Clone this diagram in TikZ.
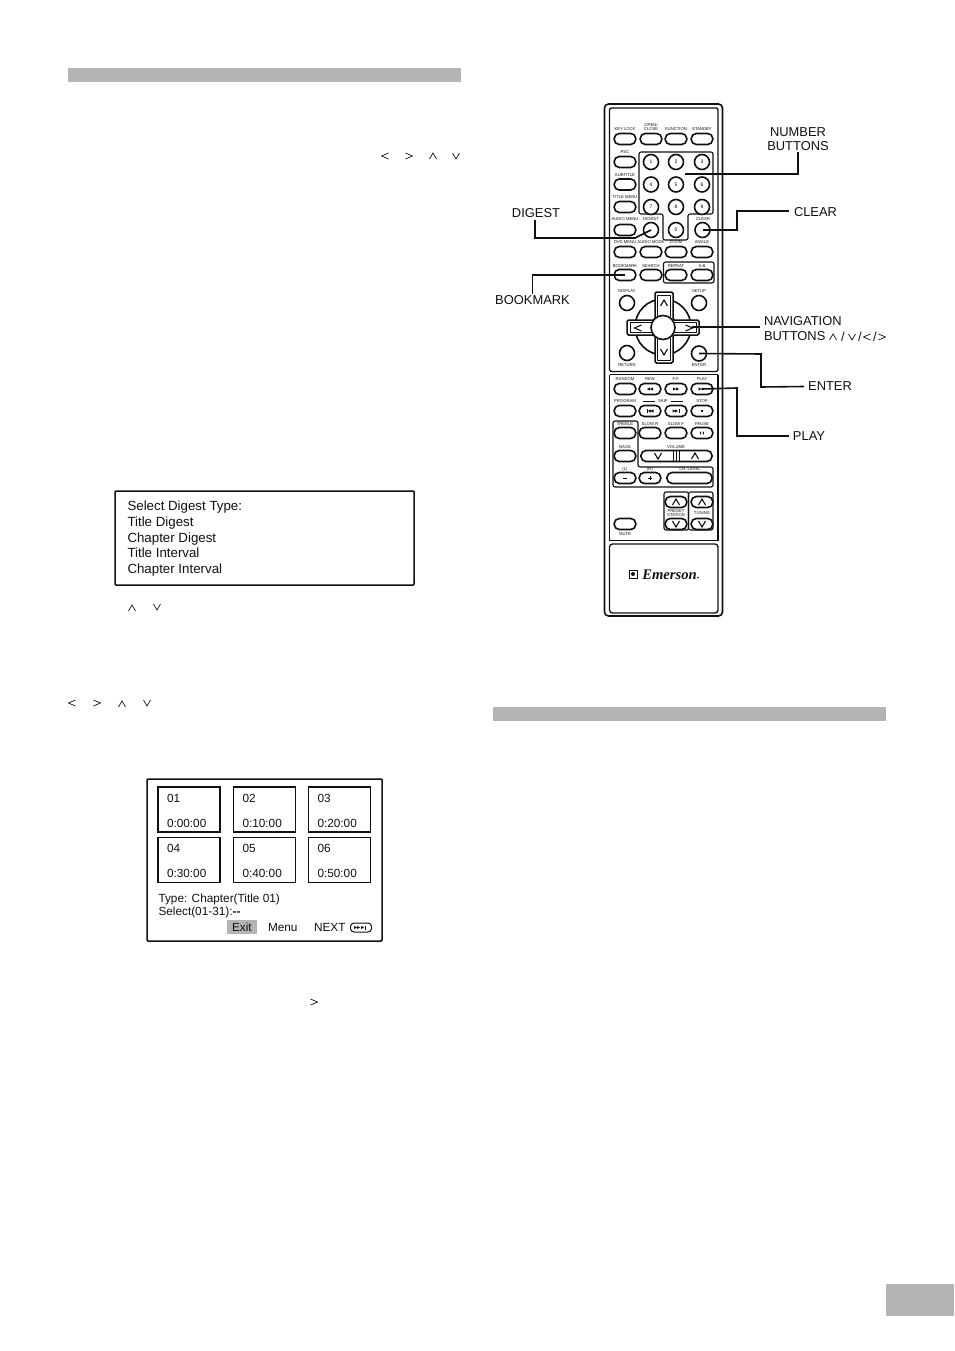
\documentclass[tikz,border=0pt]{standalone}
\usepackage{fontspec}
\setmainfont{Liberation Sans}
\newfontfamily\logofont{Liberation Serif}
\newcount\lblno
\tikzset{
  x=1pt,y=-1pt,
  bar/.style={fill=barcol,draw=none},
  rb/.style={draw=ink,line width=1.6pt,rounded corners=5pt,inner sep=0pt,outer sep=0pt,minimum height=11pt,minimum width=21.5pt,fill=white},
  cb/.style={draw=ink,circle,line width=1.6pt,inner sep=0pt,outer sep=0pt,minimum size=15pt,font=\fontsize{5}{5}\selectfont,fill=white},
  tiny/.style={inner sep=0pt,outer sep=0pt,text=ink,font=\fontsize{4.2}{4.8}\selectfont,align=center},
  body/.style={inner sep=0pt,outer sep=0pt,text=ink,anchor=base west,font=\fontsize{13.3}{15}\selectfont},
  call/.style={inner sep=0pt,outer sep=0pt,text=ink,font=\fontsize{12.9}{14.5}\selectfont,align=center},
  scr/.style={inner sep=0pt,outer sep=0pt,text=ink,anchor=base west,font=\fontsize{11.8}{13}\selectfont},
  conn/.style={draw=ink,line width=1.6pt,line join=miter},
  frame/.style={draw=ink,line width=1.5pt,rounded corners=1pt},
  thumb/.style={draw=ink,line width=1.4pt,inner sep=0pt,outer sep=0pt,minimum width=62pt,minimum height=45pt},
  chev/.style={draw=ink,line width=.7pt},
  chevb/.style={draw=ink,line width=1.1pt},
  box/.style={draw=ink,line width=1.1pt,rounded corners=2pt},
}
\definecolor{ink}{HTML}{111111}
\definecolor{barcol}{HTML}{B4B4B4}
\newcommand{\lbl}[3]{\global\advance\lblno by 1 \node[tiny] (t\the\lblno) at (#1,#2) {#3};}
\newcommand{\rbtn}[3]{\node[rb] (#1) at (#2,#3) {};}
\newcommand{\cbtn}[4]{\node[cb] (#1) at (#2,#3) {#4};}
% chevrons, centre x,y
\newcommand{\chL}[3][chev]{\draw[#1] (#2+3.5,#3-3) -- (#2-3.5,#3) -- (#2+3.5,#3+3);}
\newcommand{\chR}[3][chev]{\draw[#1] (#2-3.5,#3-3) -- (#2+3.5,#3) -- (#2-3.5,#3+3);}
\newcommand{\chU}[3][chev]{\draw[#1] (#2-3.5,#3+3) -- (#2,#3-3) -- (#2+3.5,#3+3);}
\newcommand{\chD}[3][chev]{\draw[#1] (#2-3.5,#3-3) -- (#2,#3+3) -- (#2+3.5,#3-3);}
% small transport triangles
\newcommand{\triR}[2]{\fill[ink] (#1-1.5,#2-1.6) -- (#1+1.5,#2) -- (#1-1.5,#2+1.6) -- cycle;}
\newcommand{\triL}[2]{\fill[ink] (#1+1.5,#2-1.6) -- (#1-1.5,#2) -- (#1+1.5,#2+1.6) -- cycle;}
\begin{document}
\begin{tikzpicture}
\useasboundingbox (0,0) rectangle (954,1351);
\fill[white] (0,0) rectangle (954,1351);
% grey bars
\path[bar] (68,68) rectangle (461,82);
\path[bar] (493,707) rectangle (886,721);
\path[bar] (886,1284) rectangle (954,1316);
% inline chevrons
\chL{385}{156} \chR{409}{156} \chU{433}{156} \chD{456}{156}
\chU{132}{608} \chD{157}{607}
\chL{72}{703} \chR{97}{703} \chU{122}{704} \chD{147}{703}
\chR{314}{1002}
% digest box
\draw[frame] (115,491) rectangle (414,585);
\node[body] (d1) at (127.5,510.5) {Select Digest Type:};
\node[body] (d2) at (127.5,526) {Title Digest};
\node[body] (d3) at (127.5,542) {Chapter Digest};
\node[body] (d4) at (127.5,557.5) {Title Interval};
\node[body] (d5) at (127.5,573.5) {Chapter Interval};
% chapter screen
\draw[frame] (147,779) rectangle (382,941);
\node[thumb] (th1) at (189,809.5) {};
\node[thumb] (th2) at (264.5,809.5) {};
\node[thumb] (th3) at (339.5,809.5) {};
\node[thumb] (th4) at (189,860) {};
\node[thumb] (th5) at (264.5,860) {};
\node[thumb] (th6) at (339.5,860) {};
\node[scr] (a1) at (167,802) {01};
\node[scr] (a2) at (242.5,802) {02};
\node[scr] (a3) at (317.5,802) {03};
\node[scr] (a4) at (167,852) {04};
\node[scr] (a5) at (242.5,852) {05};
\node[scr] (a6) at (317.5,852) {06};
\node[scr] (b1) at (167,827.5) {0:00:00};
\node[scr] (b2) at (242.5,827.5) {0:10:00};
\node[scr] (b3) at (317.5,827.5) {0:20:00};
\node[scr] (b4) at (167,877.5) {0:30:00};
\node[scr] (b5) at (242.5,877.5) {0:40:00};
\node[scr] (b6) at (317.5,877.5) {0:50:00};
\node[scr] (s1) at (158.5,902) {Type: Chapter(Title 01)};
\node[scr] (s2) at (158.5,915) {Select(01-31):\textbf{-{}-}};
\fill[barcol] (227,920) rectangle (257,933.5);
\node[scr] (s3) at (232,931.5) {Exit};
\node[scr] (s4) at (268,931.5) {Menu};
\node[scr] (s5) at (314,931.5) {NEXT};
\draw[ink,line width=1pt,rounded corners=3.5pt] (350.5,923) rectangle (371.5,932);
\triR{355.5}{927.5}\triR{358.5}{927.5}\triR{362.5}{927.5}
\draw[ink,line width=.8pt] (365.5,925.5) -- (365.5,929.5);
% remote body
\draw[ink,line width=1.6pt,rounded corners=4pt] (604.5,104) rectangle (722.5,616);
\draw[ink,line width=1.3pt,rounded corners=2pt] (609.5,108) -- (609.5,371.5) -- (718,371.5) -- (718,108) -- cycle;
\draw[ink,line width=1.3pt] (609.5,374.5) -- (718,374.5);
\draw[ink,line width=1.3pt] (609.5,374.5) -- (609.5,540.5) -- (718,540.5) -- (718,374.5);
\draw[ink,line width=1.3pt,rounded corners=3pt] (609.5,544) rectangle (718,613);
% number panel and grouped boxes
\draw[box] (639,152) -- (713,152) -- (713,214) -- (688,214) -- (688,240) -- (663,240) -- (663,214) -- (639,214) -- cycle;
\draw[box] (663.5,262) rectangle (714,283);
\draw[box] (613,421) -- (638,421) -- (638,467) -- (713,467) -- (713,487) -- (613,487) -- cycle;
\draw[box] (664,492) rectangle (688.5,530);
\draw[box] (688.5,492) rectangle (713,530);
% top rows
\lbl{625}{129}{KEY LOCK}\lbl{651}{127}{OPEN/\\CLOSE}\lbl{676}{129}{FUNCTION}\lbl{702}{129}{STANDBY}
\rbtn{keylock}{625}{139}\rbtn{openclose}{651}{139}\rbtn{function}{676}{139}\rbtn{standby}{702}{139}
\lbl{625}{152}{PSC}\rbtn{psc}{625}{162}
\lbl{625}{175}{SUBTITLE}\rbtn{subtitle}{625}{184.5}
\lbl{625}{197}{TITLE MENU}\rbtn{titlemenu}{625}{207}
\lbl{625}{219}{AUDIO MENU}\rbtn{audiomenu}{625}{230}
\cbtn{n1}{651}{162}{1}\cbtn{n2}{676}{162}{2}\cbtn{n3}{702}{162}{3}
\cbtn{n4}{651}{184.5}{4}\cbtn{n5}{676}{184.5}{5}\cbtn{n6}{702}{184.5}{6}
\cbtn{n7}{651}{207}{7}\cbtn{n8}{676}{207}{8}\cbtn{n9}{702}{207}{9}
\cbtn{n0}{676}{230}{0}
\lbl{651}{219}{DIGEST}\cbtn{digest}{651}{230}{}
\lbl{703}{219}{CLEAR}\cbtn{clear}{702.5}{230}{}
\lbl{625}{242}{DVD MENU}\lbl{651}{242}{AUDIO MODE}\lbl{676}{242}{ZOOM}\lbl{702}{242}{ANGLE}
\rbtn{dvdmenu}{625}{252}\rbtn{audiomode}{651}{252}\rbtn{zoom}{676}{252}\rbtn{angle}{702}{252}
\lbl{625}{266}{BOOKMARK}\lbl{651}{266}{SEARCH}\lbl{676}{266}{REPEAT}\lbl{702}{266}{A-B}
\rbtn{bookmark}{625}{275}\rbtn{search}{651}{275}\rbtn{repeat}{676}{275}\rbtn{ab}{702}{275}
% navigation
\lbl{627}{291}{DISPLAY}\lbl{699}{291}{SETUP}
\node[cb,minimum size=15pt] (display) at (627,303) {};
\node[cb,minimum size=15pt] (setup) at (699,303) {};
\node[cb,minimum size=56pt] (navring) at (663,327) {};
\draw[ink,fill=white,line width=1.5pt,rounded corners=1.5pt] (655,292) -- (673,292) -- (673,320) -- (699,320) -- (699,335) -- (673,335) -- (673,363) -- (655,363) -- (655,335) -- (627,335) -- (627,320) -- (655,320) -- cycle;
\draw[ink,line width=.8pt] (657.5,317) -- (657.5,295) -- (670.5,295) -- (670.5,317) (657.5,338) -- (657.5,360) -- (670.5,360) -- (670.5,338) (652,322.5) -- (630,322.5) -- (630,332.5) -- (652,332.5) (674,322.5) -- (696,322.5) -- (696,332.5) -- (674,332.5);
\node[cb,minimum size=24pt] (navok) at (663,327.5) {};
\chU[chevb]{664}{303} \chD[chevb]{664}{352} \chL[chevb]{638}{328} \chR[chevb]{689}{328}
\node[cb,minimum size=15pt] (return) at (627,353) {};
\node[cb,minimum size=15pt] (enter) at (699,353.5) {};
\lbl{627}{365}{RETURN}\lbl{699}{365}{ENTER}
% transport
\lbl{625}{379}{RANDOM}\lbl{650}{379}{REW}\lbl{676}{379}{F.F.}\lbl{702}{379}{PLAY}
\rbtn{random}{625}{389}\rbtn{rew}{650}{389}\rbtn{ff}{676}{389}\rbtn{play}{702}{389}
\triL{648.5}{389}\triL{651.5}{389}\triR{674.5}{389}\triR{677.5}{389}\triR{700}{389}\triR{703}{389}
\lbl{625}{401}{PROGRAM}\lbl{663}{401}{SKIP}\lbl{702}{401}{STOP}
\draw[ink,line width=.6pt] (643,401) -- (655,401) (671,401) -- (683,401);
\rbtn{program}{625}{411}\rbtn{skipb}{650}{411}\rbtn{skipf}{676}{411}\rbtn{stop}{702}{411}
\triL{649.5}{411}\triL{652}{411}\draw[ink,line width=.7pt] (647,409.4)--(647,412.6);
\triR{674}{411}\triR{676.5}{411}\draw[ink,line width=.7pt] (679,409.4)--(679,412.6);
\fill[ink] (701,409.8) rectangle (703,412.2);
\lbl{625}{424}{TREBLE}\lbl{650}{424}{SLOW R}\lbl{676}{424}{SLOW F}\lbl{702}{424}{PAUSE}
\rbtn{treble}{625}{433}\rbtn{slowr}{650}{433}\rbtn{slowf}{676}{433}\rbtn{pause}{702}{433}
\fill[ink] (700.2,431.6) rectangle (701.2,434.4) (702.8,431.6) rectangle (703.8,434.4);
\lbl{625}{447}{BASS}\lbl{676}{447}{VOLUME}
\rbtn{bass}{625}{456}
\node[rb,minimum width=71pt] (volume) at (676.5,456) {};
\draw[ink,line width=.9pt] (673.5,451) -- (673.5,461) (676.5,451) -- (676.5,461) (679.5,451) -- (679.5,461);
\chD[chevb]{658}{456}\chU[chevb]{695}{456}
\lbl{625}{469}{(L)}\lbl{650}{469}{(R)}\lbl{690}{469}{CH. LEVEL}
\node[rb] (left) at (625,478) {};
\node[rb] (right) at (650,478) {};
\node[rb,minimum width=45pt] (chlevel) at (689.5,478) {};
\draw[ink,line width=1pt] (623,478) -- (627,478) (648,478) -- (652,478) (650,476) -- (650,480);
% preset, tuning, mute
\rbtn{preup}{676}{502}\rbtn{predn}{676}{524}\rbtn{tunup}{702}{502}\rbtn{tundn}{702}{524}
\chU[chevb]{676}{502}\chD[chevb]{676}{524}\chU[chevb]{702}{502}\chD[chevb]{702}{524}
\lbl{676}{513}{PRESET\\STATION}\lbl{702}{513}{TUNING}
\rbtn{mute}{625}{524}\lbl{625}{534}{MUTE}
% logo
\draw[ink,line width=.9pt] (629,570) rectangle (637,578);
\fill[ink] (633,574) circle (2pt);
\node[inner sep=0pt,outer sep=0pt,text=ink,font=\logofont\bfseries\itshape\fontsize{14.6}{14.6}\selectfont] (logo) at (669.5,574.5) {Emerson};
\fill[ink] (698,577.5) circle (.8pt);
% callouts
\node[call] (lNum) at (798,139) {NUMBER\\BUTTONS};
\node[call,anchor=west] (lClear) at (794,212) {CLEAR};
\node[call] (lDigest) at (536,213.5) {DIGEST};
\node[call] (lBook) at (532.5,300.5) {BOOKMARK};
\node[call,anchor=west] (lNav) at (764,321) {NAVIGATION};
\node[call,anchor=west] (lNav2) at (764,336) {BUTTONS};
\node[call] (lEnter) at (830,386.5) {ENTER};
\node[call] (lPlay) at (809,436) {PLAY};
\chU{833}{337}\chD[chev]{852}{337}\chL[chev]{867}{337}\chR[chev]{882}{337}
\node[call] (sl1) at (843,336.5) {/};
\node[call] (sl2) at (860,336.5) {/};
\node[call] (sl3) at (875,336.5) {/};
\coordinate (cNum) at (685,174);
\coordinate (cNav) at (692,327);
\coordinate (cElbow) at (635,238);
\coordinate (cClear) at (737,211);
\coordinate (cEnter) at (761,387);
\coordinate (cPlay) at (737,436);
\draw[conn] (lNum.south) ++(0,1) |- (cNum);
\draw[conn] (lClear.west) ++(-5,-1) -- (cClear) -- (737,230) -- (clear.center);
\draw[conn] (lDigest.south) ++(-1,2) |- (cElbow) -- (digest.center);
\draw[conn] (lBook.north) ++(0,-2) |- (bookmark.center);
\draw[conn] (760,327) -- (cNav);
\draw[conn] (lEnter.west) ++(-4,0) -- (cEnter) -- (761,354) -- (enter.center);
\draw[conn] (lPlay.west) ++(-4,0) -- (cPlay) -- (737,388) -- (play.center);
\end{tikzpicture}
\end{document}
